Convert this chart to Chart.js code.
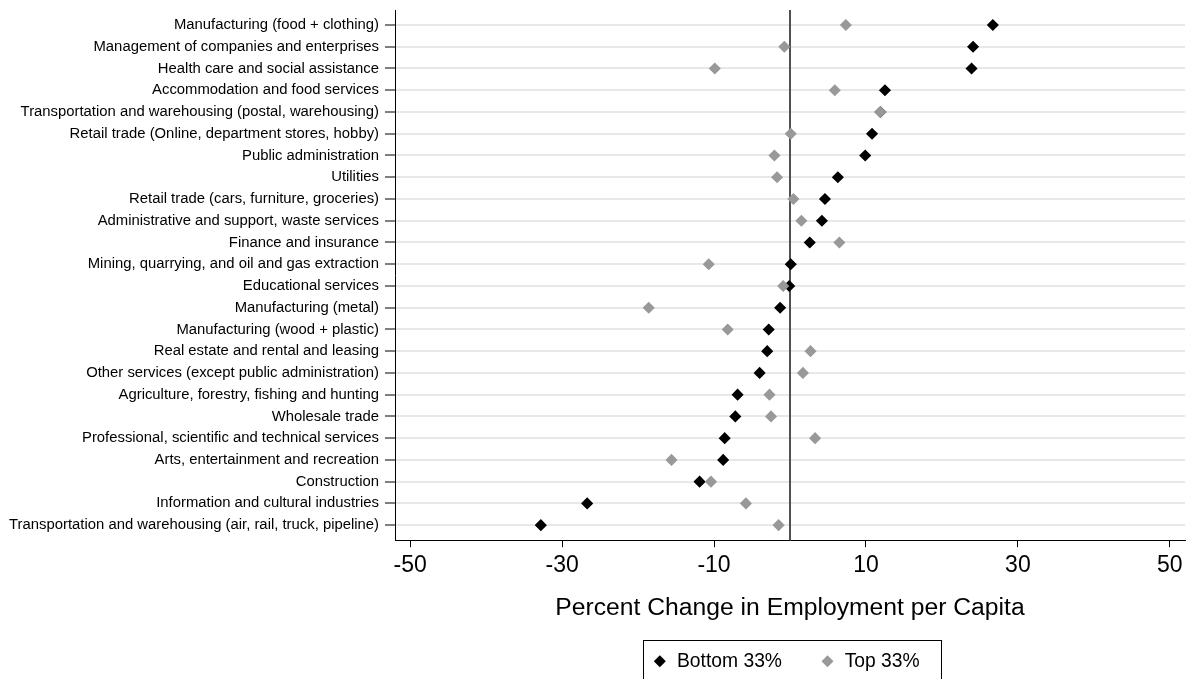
<!DOCTYPE html>
<html>
<head>
<meta charset="utf-8">
<script src="https://cdn.jsdelivr.net/npm/chart.js@4.4.1/dist/chart.umd.min.js"></script>
<style>
  html, body { margin: 0; padding: 0; background: #fff; overflow: hidden; }
  #wrap { width: 1192px; height: 681px; position: relative; }
</style>
</head>
<body>
<div id="wrap"><canvas id="chart"></canvas></div>
<script>
// industries, top to bottom
const industries = [
  'Manufacturing (food + clothing)',
  'Management of companies and enterprises',
  'Health care and social assistance',
  'Accommodation and food services',
  'Transportation and warehousing (postal, warehousing)',
  'Retail trade (Online, department stores, hobby)',
  'Public administration',
  'Utilities',
  'Retail trade (cars, furniture, groceries)',
  'Administrative and support, waste services',
  'Finance and insurance',
  'Mining, quarrying, and oil and gas extraction',
  'Educational services',
  'Manufacturing (metal)',
  'Manufacturing (wood + plastic)',
  'Real estate and rental and leasing',
  'Other services (except public administration)',
  'Agriculture, forestry, fishing and hunting',
  'Wholesale trade',
  'Professional, scientific and technical services',
  'Arts, entertainment and recreation',
  'Construction',
  'Information and cultural industries',
  'Transportation and warehousing (air, rail, truck, pipeline)'
];

const bottom33 = [26.7, 24.1, 23.9, 12.5, 11.9, 10.8, 9.9, 6.3, 4.6, 4.2, 2.6, 0.1,
  -0.1, -1.3, -2.8, -3.0, -4.0, -6.9, -7.2, -8.6, -8.8, -11.9, -26.7, -32.8];
const top33 = [7.35, -0.75, -9.9, 5.9, 11.9, 0.1, -2.05, -1.7, 0.45, 1.5, 6.5, -10.7,
  -0.9, -18.6, -8.2, 2.7, 1.7, -2.7, -2.5, 3.3, -15.6, -10.4, -5.8, -1.5];

const xTicks = [-50, -30, -10, 10, 30, 50];
const refLine = 0;

const toPoints = (vals) => vals.map((v, i) => ({ x: v, y: i }));

// legend centred under the plot area, with a frame around it
const legendFrame = {
  id: 'legendFrame',
  afterLayout(chart) {
    const lg = chart.legend;
    lg.left = chart.chartArea.left - 8;
    lg.right = chart.chartArea.right;
  },
  afterDraw(chart) {
    const lg = chart.legend;
    const hb = lg.legendHitBoxes;
    if (!hb || !hb.length) return;
    const pad = lg.options.labels.padding;
    const x0 = (lg.left + pad + lg.right - lg.lineWidths[0]) / 2;
    let x1 = x0;
    hb.forEach((b, i) => { x1 += b.width + (i < hb.length - 1 ? pad : 0); });
    const cy = hb[0].top + hb[0].height / 2;
    const ctx = chart.ctx;
    ctx.save();
    ctx.strokeStyle = '#000';
    ctx.lineWidth = 1;
    const l = Math.round(x0 - 9) + 0.5;
    const t = Math.round(cy - 21) + 0.5;
    ctx.strokeRect(l, t, Math.round(x1 + 21) + 0.5 - l, 44);
    ctx.restore();
  }
};

new Chart(document.getElementById('chart'), {
  type: 'scatter',
  data: {
    datasets: [
      {
        label: 'Top 33%',
        data: toPoints(top33),
        pointStyle: 'rectRot',
        pointRadius: 5,
        pointBorderWidth: 1.5,
        backgroundColor: '#999999',
        borderColor: '#999999'
      },
      {
        label: 'Bottom 33%',
        data: toPoints(bottom33),
        pointStyle: 'rectRot',
        pointRadius: 5,
        pointBorderWidth: 1.5,
        backgroundColor: '#000000',
        borderColor: '#000000'
      },
      {
        type: 'line',
        label: 'zero',
        data: [{ x: refLine, y: -0.69 }, { x: refLine, y: 23.69 }],
        borderColor: '#505050',
        borderWidth: 2,
        pointRadius: 0,
        fill: false
      }
    ]
  },
  options: {
    responsive: true,
    maintainAspectRatio: false,
    animation: false,
    layout: { padding: { top: 10, right: 7, left: 0, bottom: 0 } },
    plugins: {
      tooltip: { enabled: false },
      legend: {
        position: 'bottom',
        reverse: true,
        labels: {
          filter: (item) => item.text !== 'zero',
          usePointStyle: true,
          boxHeight: 7,
          boxWidth: 15,
          padding: 38,
          color: '#000',
          font: { family: 'Liberation Sans, Arial, sans-serif', size: 19.3 }
        }
      }
    },
    scales: {
      x: {
        type: 'linear',
        min: -52,
        max: 52,
        afterBuildTicks: (ax) => { ax.ticks = xTicks.map((v) => ({ value: v })); },
        grid: {
          drawOnChartArea: false,
          tickLength: 7,
          tickColor: '#000',
          tickWidth: 1
        },
        border: { color: '#000', width: 1 },
        ticks: {
          padding: 5,
          color: '#000',
          maxRotation: 0,
          font: { family: 'Liberation Sans, Arial, sans-serif', size: 23 }
        },
        title: {
          display: true,
          text: 'Percent Change in Employment per Capita',
          color: '#000',
          font: { family: 'Liberation Sans, Arial, sans-serif', size: 24.7, lineHeight: 0.5 },
          padding: { top: 17.6, bottom: -1 }
        }
      },
      y: {
        type: 'linear',
        reverse: true,
        min: -0.69,
        max: 23.69,
        afterBuildTicks: (ax) => { ax.ticks = industries.map((_, i) => ({ value: i })); },
        afterFit: (ax) => { ax.width = 395; ax.paddingTop = 0; ax.paddingBottom = 0; },
        grid: {
          color: '#e8e8e8',
          lineWidth: 2,
          tickLength: 10,
          tickColor: '#000',
          tickWidth: 1
        },
        border: { color: '#000', width: 1 },
        ticks: {
          padding: 6,
          color: '#000',
          autoSkip: false,
          font: { family: 'Liberation Sans, Arial, sans-serif', size: 14.85 },
          callback: (v) => industries[v]
        }
      }
    }
  },
  plugins: [legendFrame]
});
</script>
</body>
</html>
